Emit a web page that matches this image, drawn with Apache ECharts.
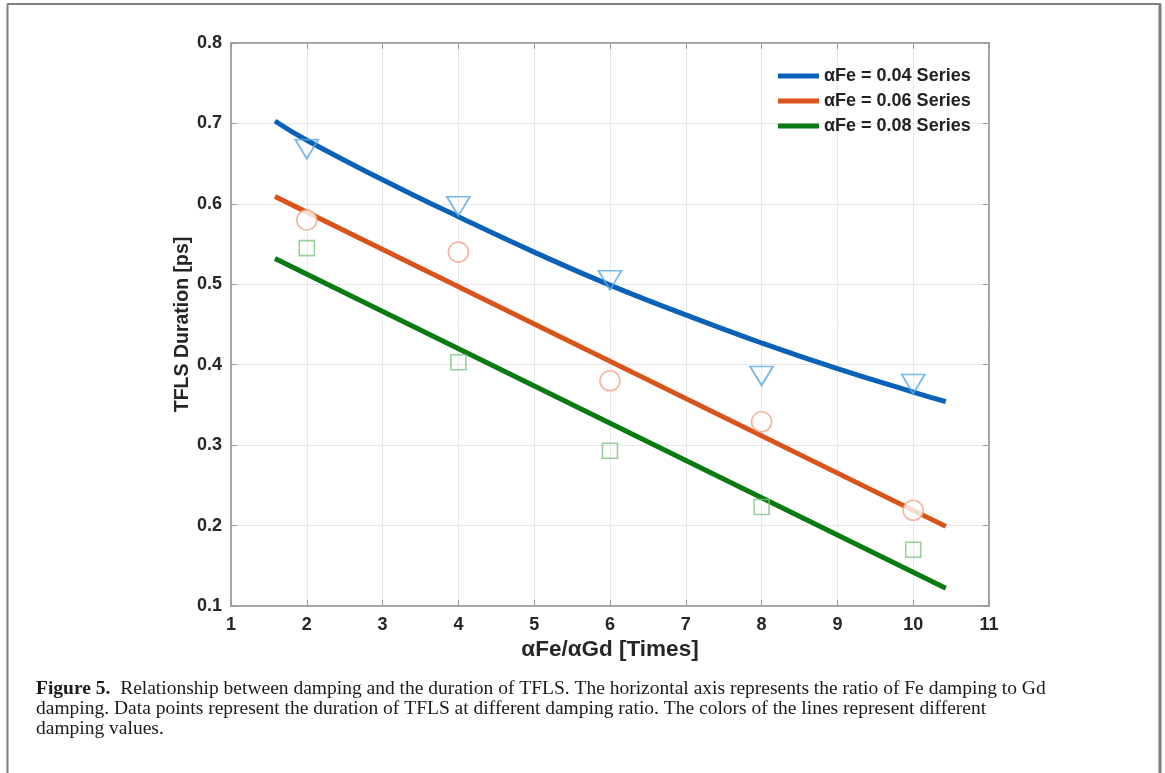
<!DOCTYPE html>
<html>
<head>
<meta charset="utf-8">
<script src="https://cdn.jsdelivr.net/npm/echarts@6/dist/echarts.min.js"></script>
<style>html,body{margin:0;padding:0;background:#fff;}#c{width:1165px;height:773px;}</style>
</head>
<body>
<div id="c"></div>
<script>
// ---- data ----
const xTicks = [1, 2, 3, 4, 5, 6, 7, 8, 9, 10, 11];
const yTicks = [0.1, 0.2, 0.3, 0.4, 0.5, 0.6, 0.7, 0.8];
const seriesNames = ['αFe = 0.04 Series', 'αFe = 0.06 Series', 'αFe = 0.08 Series'];

// measured points (x = αFe/αGd)
const ratioX = [2, 4, 6, 8, 10];
const pts004 = [0.668, 0.597, 0.505, 0.386, 0.376];
const pts006 = [0.580, 0.540, 0.380, 0.329, 0.219];
const pts008 = [0.545, 0.403, 0.293, 0.223, 0.170];

// fitted lines
const fitX004 = [1.58, 2, 3, 4, 5, 6, 7, 8, 9, 10, 10.43];
const fit004 = [0.703, 0.679, 0.630, 0.584, 0.540, 0.499, 0.462, 0.427, 0.395, 0.366, 0.354];
const fitX006 = [1.58, 10.43];
const fit006 = [0.609, 0.199];
const fitX008 = [1.58, 10.43];
const fit008 = [0.532, 0.122];

const captionLines = [
  ['Figure 5.', '  Relationship between damping and the duration of TFLS. The horizontal axis represents the ratio of Fe damping to Gd'],
  ['', 'damping. Data points represent the duration of TFLS at different damping ratio. The colors of the lines represent different'],
  ['', 'damping values.']
];

// ---- styling ----
const lineColors = ['#0A62B8', '#D9531A', '#0A7A12'];
const markColors = ['#5AA8E6', '#F2A285', '#7CC47E'];
const FONT = '"Liberation Sans", Arial, sans-serif';

const pair = (xs, ys) => xs.map((x, i) => [x, ys[i]]);

const chart = echarts.init(document.getElementById('c'), null, {renderer: 'canvas'});

const axisCommonY = {
  type: 'value', min: yTicks[0], max: yTicks[yTicks.length - 1], interval: 0.1
};
const axisCommonX = {
  type: 'value', min: xTicks[0], max: xTicks[xTicks.length - 1], interval: 1
};

const option = {
  backgroundColor: '#fff',
  animation: false,
  grid: {left: 231, right: 176, top: 43, bottom: 167, show: true, borderColor: '#9a9a9a', borderWidth: 1.5, backgroundColor: 'transparent'},
  legend: {
    data: seriesNames,
    orient: 'vertical',
    left: 773, top: 62,
    itemWidth: 41, itemHeight: 5, itemGap: 7,
    icon: 'rect',
    textStyle: {fontFamily: FONT, fontWeight: 'bold', fontSize: 18, color: '#222'}
  },
  xAxis: [
    Object.assign({}, axisCommonX, {
      position: 'bottom',
      name: 'αFe/αGd [Times]', nameLocation: 'middle', nameGap: 32, nameMoveOverlap: false,
      nameTextStyle: {fontFamily: FONT, fontWeight: 'bold', fontSize: 22.5, color: '#262626'},
      axisLine: {show: true, lineStyle: {color: '#9a9a9a', width: 1.5}},
      axisTick: {show: true, inside: true, length: 6, lineStyle: {color: '#9a9a9a'}},
      axisLabel: {fontFamily: FONT, fontWeight: 'bold', fontSize: 18, color: '#262626', margin: 10, formatter: v => String(v)},
      splitLine: {show: true, lineStyle: {color: '#e8e8e8', width: 1}}
    }),
    Object.assign({}, axisCommonX, {
      position: 'top',
      axisLine: {show: true, lineStyle: {color: '#9a9a9a', width: 1.5}},
      axisTick: {show: true, inside: true, length: 6, lineStyle: {color: '#9a9a9a'}},
      axisLabel: {show: false}, splitLine: {show: false}
    })
  ],
  yAxis: [
    Object.assign({}, axisCommonY, {
      position: 'left',
      name: 'TFLS Duration [ps]', nameLocation: 'middle', nameGap: 38, nameRotate: 90, nameMoveOverlap: false,
      nameTextStyle: {fontFamily: FONT, fontWeight: 'bold', fontSize: 19.5, color: '#262626'},
      axisLine: {show: true, lineStyle: {color: '#9a9a9a', width: 1.5}},
      axisTick: {show: true, inside: true, length: 6, lineStyle: {color: '#9a9a9a'}},
      axisLabel: {fontFamily: FONT, fontWeight: 'bold', fontSize: 18, color: '#262626', margin: 9, formatter: v => v.toFixed(1)},
      splitLine: {show: true, lineStyle: {color: '#e8e8e8', width: 1}}
    }),
    Object.assign({}, axisCommonY, {
      position: 'right',
      axisLine: {show: true, lineStyle: {color: '#9a9a9a', width: 1.5}},
      axisTick: {show: true, inside: true, length: 6, lineStyle: {color: '#9a9a9a'}},
      axisLabel: {show: false}, splitLine: {show: false}
    })
  ],
  series: [
    {name: seriesNames[0], type: 'line', data: pair(fitX004, fit004), smooth: true, showSymbol: false,
     lineStyle: {color: lineColors[0], width: 5}, itemStyle: {color: lineColors[0]}, z: 2},
    {name: seriesNames[1], type: 'line', data: pair(fitX006, fit006), showSymbol: false,
     lineStyle: {color: lineColors[1], width: 5}, itemStyle: {color: lineColors[1]}, z: 2},
    {name: seriesNames[2], type: 'line', data: pair(fitX008, fit008), showSymbol: false,
     lineStyle: {color: lineColors[2], width: 5}, itemStyle: {color: lineColors[2]}, z: 2},
    {name: 'pts004', type: 'scatter', data: pair(ratioX, pts004), symbol: 'triangle', symbolRotate: 180, symbolSize: [23, 19],
     itemStyle: {color: 'rgba(255,255,255,0)', borderColor: markColors[0], borderWidth: 1.8}, z: 5},
    {name: 'pts006', type: 'scatter', data: pair(ratioX, pts006), symbol: 'circle', symbolSize: 20,
     itemStyle: {color: '#fff', borderColor: markColors[1], borderWidth: 1.6}, z: 5},
    {name: 'pts008', type: 'scatter', data: pair(ratioX, pts008), symbol: 'rect', symbolSize: 15,
     itemStyle: {color: 'rgba(255,255,255,0)', borderColor: markColors[2], borderWidth: 1.6}, z: 5}
  ],
  graphic: [
    {type: 'line', shape: {x1: 7, y1: 4, x2: 1161, y2: 4}, style: {stroke: '#7f7f7f', lineWidth: 2}},
    {type: 'line', shape: {x1: 7.5, y1: 4, x2: 7.5, y2: 773}, style: {stroke: '#7f7f7f', lineWidth: 2}},
    {type: 'line', shape: {x1: 1160, y1: 4, x2: 1160, y2: 773}, style: {stroke: '#7f7f7f', lineWidth: 3}}
  ].concat(captionLines.map((ln, i) => ({
    type: 'text', left: 36, top: 679 + i * 20,
    style: {
      text: (ln[0] ? '{b|' + ln[0] + '}' : '') + '{n|' + ln[1] + '}',
      rich: {
        b: {fontFamily: '"Liberation Serif", serif', fontWeight: 'bold', fontSize: 19.5, fill: '#1a1a1a'},
        n: {fontFamily: '"Liberation Serif", serif', fontSize: 19.5, fill: '#1a1a1a'}
      }
    }
  })))
};
chart.setOption(option);
</script>
</body>
</html>
